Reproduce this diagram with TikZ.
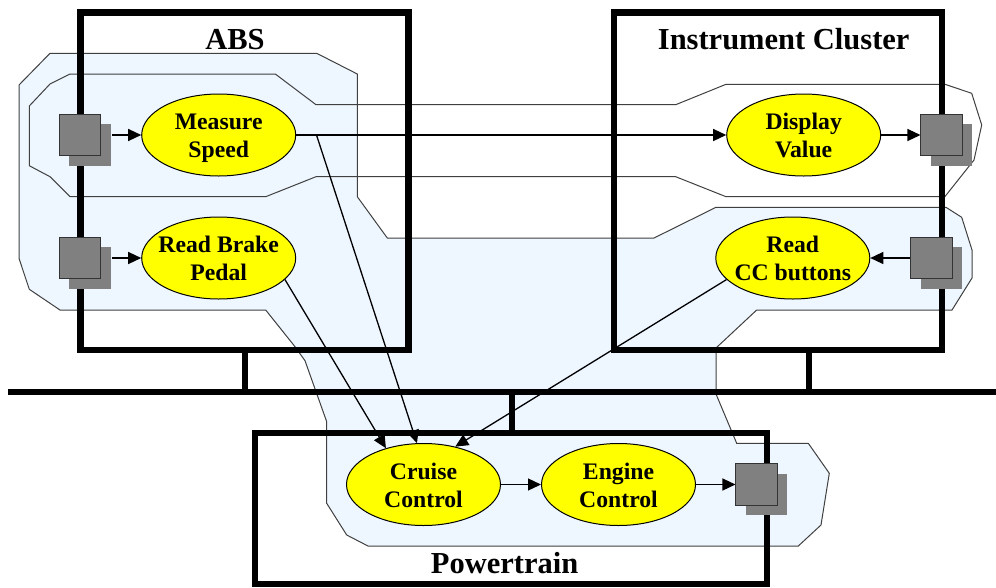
\documentclass[tikz,border=0pt]{standalone}
\usepackage{fontspec}
\setmainfont{Liberation Serif}
\usetikzlibrary{arrows.meta,shapes.geometric,shadows}
\definecolor{regblue}{RGB}{238,246,255}
\definecolor{portgray}{RGB}{128,128,128}
\definecolor{ellyellow}{RGB}{255,255,0}
\pgfdeclarelayer{regionlayer}
\pgfdeclarelayer{arrowlayer}
\pgfdeclarelayer{boxlayer}
\pgfsetlayers{regionlayer,arrowlayer,boxlayer,main}
\begin{document}
\begin{tikzpicture}[x=1pt,y=-1pt,
  region/.style={draw=black!75,line width=1pt,line join=miter},
  sysbox/.style={draw=black,line width=6.5pt,rectangle,inner sep=0pt,outer sep=0pt},
  busline/.style={draw=black,line width=6pt},
  title/.style={font=\fontsize{30.5}{36}\selectfont\bfseries,inner sep=0pt},
  proc/.style={ellipse,draw=black,line width=1pt,fill=ellyellow,minimum width=154pt,minimum height=82pt,inner sep=0pt},
  plabel/.style={align=center,inner sep=0pt,font=\fontsize{23.7}{28}\selectfont\bfseries},
  port/.style={rectangle,minimum size=41.5pt,inner sep=0pt,fill=portgray,draw=black!80,line width=1pt,
    drop shadow={shadow xshift=10pt,shadow yshift=-10pt,opacity=1,fill=portgray,draw=none}},
  arr/.style={draw=black,line width=1.3pt,-{Triangle[length=13pt,width=12pt]}}
]
\useasboundingbox (0,0) rectangle (996,587);

% regions
\begin{pgfonlayer}{regionlayer}
\draw[region,fill=regblue] (50,53.3) -- (316.7,53.3) -- (357.3,74) -- (357.3,196.7) -- (387.3,238)
  -- (654,238) -- (716,207.3) -- (946,207.3) -- (961.7,217.3) -- (972,250) -- (972,278) -- (952,310)
  -- (756.7,310) -- (716,348) -- (716,394) -- (736.7,443.3) -- (808.3,443.3) -- (829.3,473.3)
  -- (821,525) -- (798.3,546) -- (368,546) -- (346.7,535) -- (326.7,503.3) -- (326.7,421.7)
  -- (305,360.7) -- (295,346.7) -- (265.7,310) -- (60,310) -- (29.3,289.3) -- (19,258.3) -- (19,85) -- cycle;
\draw[region] (70,74) -- (275.3,74) -- (316,104.7) -- (675.7,104.7) -- (726,84.3) -- (945,84.3)
  -- (971.7,93.3) -- (981.7,125) -- (974,160) -- (945,196.5) -- (726,196.7) -- (675.7,176.7)
  -- (316,176.7) -- (265.7,196.7) -- (70,196.7) -- (50,176.7) -- (29.3,165.7) -- (29.3,106) -- (50,84) -- cycle;
\end{pgfonlayer}

% system boxes and bus
\begin{pgfonlayer}{boxlayer}
\node[sysbox,minimum width=327.6pt,minimum height=337.3pt] (absbox) at (244.5,181.35) {};
\node[sysbox,minimum width=328pt,minimum height=337.3pt] (icbox) at (778,181.35) {};
\node[sysbox,minimum width=512pt,minimum height=151pt] (ptbox) at (511,508.5) {};
\coordinate (busL) at (8,392);
\coordinate (busR) at (996,392);
\coordinate (stubA) at (245,392);
\coordinate (stubI) at (809,392);
\coordinate (stubP) at (511.5,392);
\draw[busline] (busL) -- (busR);
\draw[busline] (stubA) -- (stubA |- absbox.south);
\draw[busline] (stubI) -- (stubI |- icbox.south);
\draw[busline] (stubP) -- (stubP |- ptbox.north);
\end{pgfonlayer}

% titles
\node[title,anchor=base] (absT) at (235,49.3) {ABS};
\node[title,anchor=base] (icT) at (783.7,49.3) {Instrument Cluster};
\node[title,anchor=base] (ptT) at (504.6,573.3) {Powertrain};

% processes
\node[proc] (ms) at (218.7,135) {};
\node[proc] (rb) at (218.7,258) {};
\node[proc] (dv) at (803.7,135) {};
\node[proc] (rc) at (792.8,258) {};
\node[proc] (cc) at (423.5,484.5) {};
\node[proc] (ec) at (618.5,484.5) {};
\node[plabel] (msT) at ([yshift=-3pt]ms.center) {\strut Measure\\\strut Speed};
\node[plabel] (rbT) at ([yshift=-3pt]rb.center) {\strut Read Brake\\\strut Pedal};
\node[plabel] (dvT) at ([yshift=-3pt]dv.center) {\strut Display\\\strut Value};
\node[plabel] (rcT) at ([yshift=-3pt]rc.center) {\strut Read\\\strut CC buttons};
\node[plabel] (ccT) at ([yshift=-3pt]cc.center) {\strut Cruise\\\strut Control};
\node[plabel] (ecT) at ([yshift=-3pt]ec.center) {\strut Engine\\\strut Control};

% ports
\node[port] (pa1) at (80.2,135) {};
\node[port] (pa2) at (80.2,258) {};
\node[port] (pd) at (941.7,135) {};
\node[port] (pc) at (931.5,258) {};
\node[port] (pp) at (756.7,484.5) {};

% connectors
\begin{pgfonlayer}{arrowlayer}
\coordinate (branch) at (316.5,135);
\draw[arr,shorten <=10.5pt] (pa1.east) -- (ms.west);
\draw[arr,shorten <=10.5pt] (pa2.east) -- (rb.west);
\draw[arr] (ms.east) -- (dv.west);
\draw[arr] (dv.east) -- (pd.west);
\draw[arr] (pc.west) -- (rc.east);
\draw[arr] (cc.east) -- (ec.west);
\draw[arr] (ec.east) -- (pp.west);
\draw[arr] (branch) -- (cc.99);
\draw[arr] (rb.-18) -- (cc.136);
\draw[arr] (rc.198) -- (cc.50);
\end{pgfonlayer}
\end{tikzpicture}
\end{document}
